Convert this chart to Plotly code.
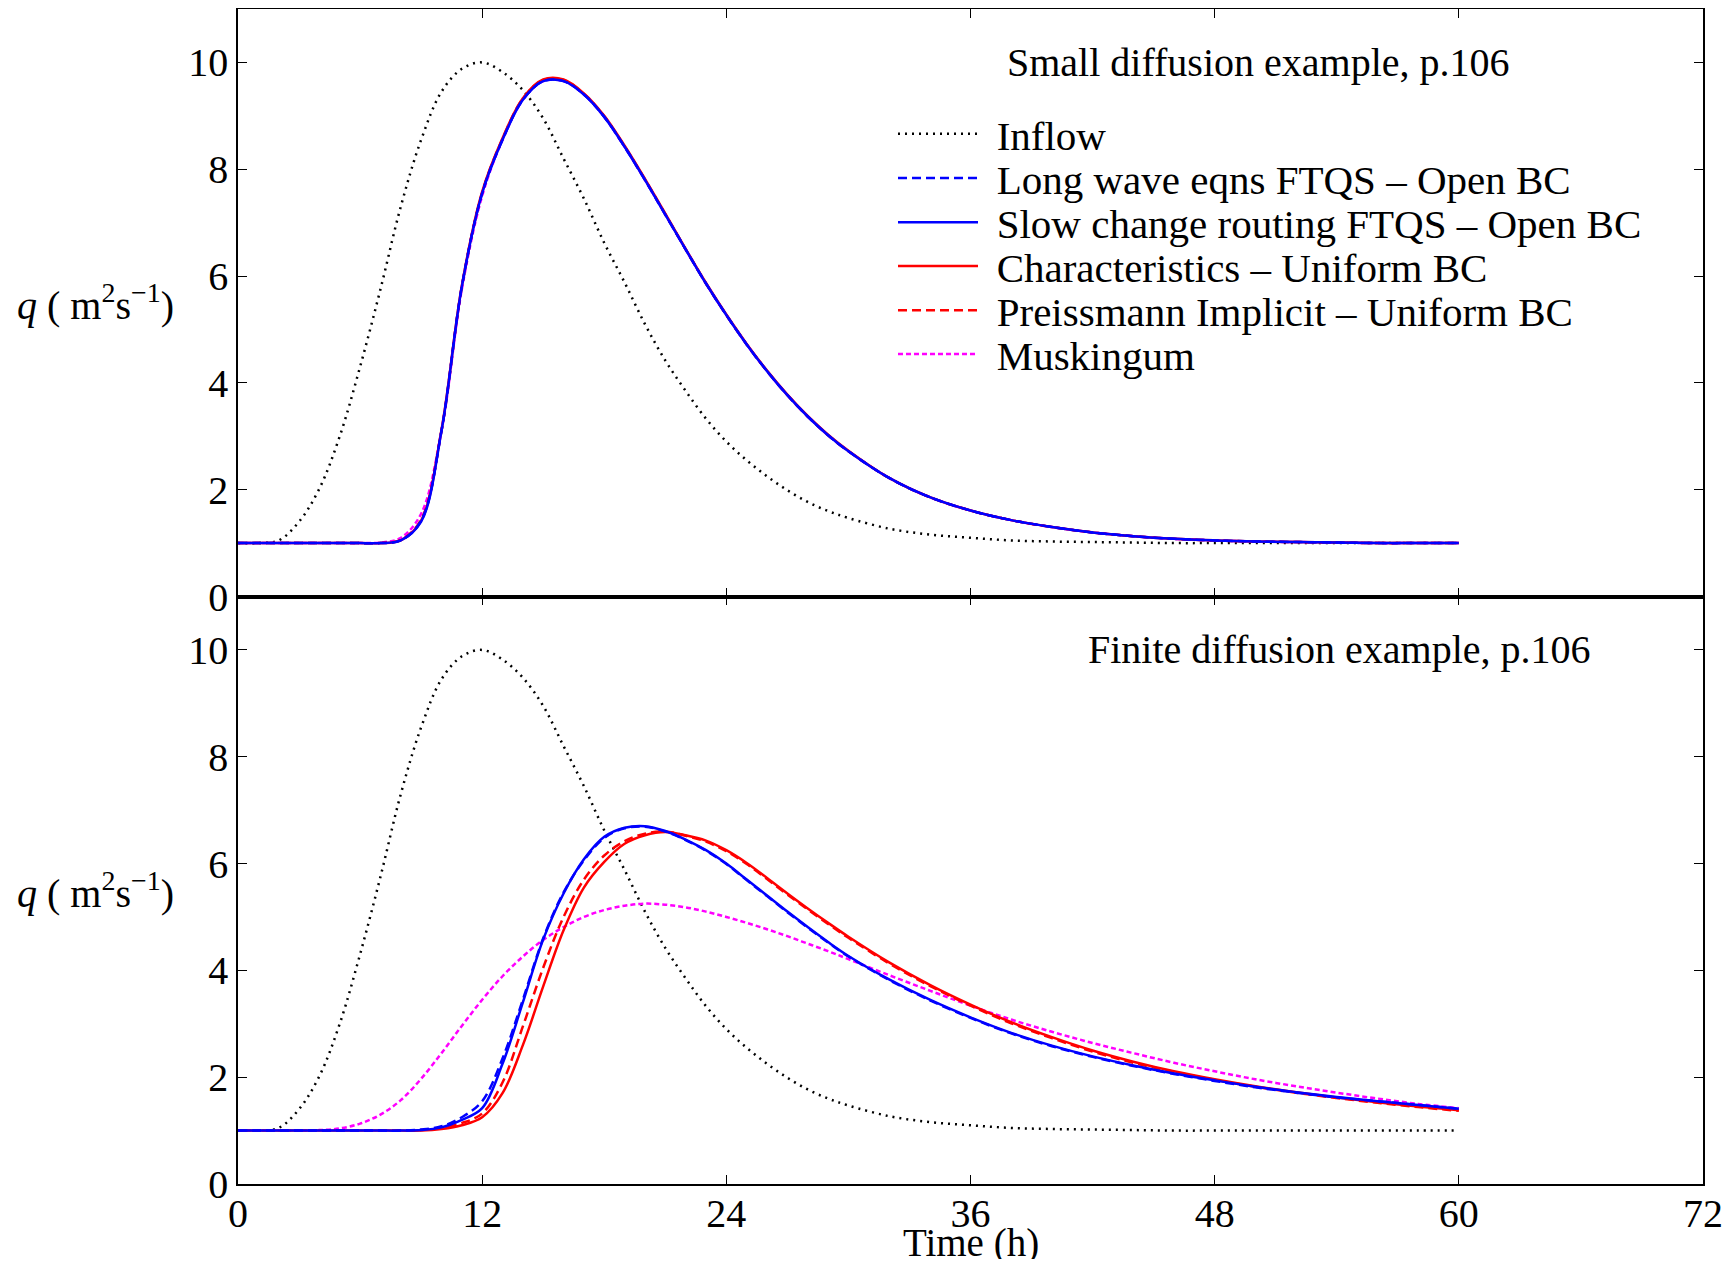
import plotly.graph_objects as go
from plotly.subplots import make_subplots

# time axis (hours): hourly to 30, then every 2 h
hours = list(range(0, 31)) + list(range(32, 61, 2))

# inflow hydrograph, same in both examples
inflow = [1.0, 1.0, 1.05, 1.4, 2.02, 3.0, 4.3, 5.75, 7.3, 8.55,
          9.45, 9.88, 10.0, 9.82, 9.48, 8.95, 8.2, 7.45, 6.62, 5.88,
          5.1, 4.42, 3.85, 3.33, 2.9, 2.55, 2.25, 1.99, 1.77, 1.6,
          1.47,
          1.27, 1.16, 1.1, 1.05, 1.03, 1.02, 1.01, 1.0, 1.0, 1.0, 1.0, 1.0, 1.0, 1.0, 1.0]

# --- small diffusion example (top) ---
small_longwave = [1.0, 1.0, 1.0, 1.0, 1.0, 1.0, 1.0, 1.0, 1.05, 1.42,
                  3.1, 5.8, 7.55, 8.55, 9.3, 9.65, 9.65, 9.4, 8.98, 8.42,
                  7.8, 7.15, 6.5, 5.86, 5.27, 4.72, 4.22, 3.77, 3.37, 3.02,
                  2.72,
                  2.22, 1.86, 1.61, 1.43, 1.3, 1.2, 1.13, 1.08, 1.05, 1.03, 1.02, 1.01, 1.0, 1.0, 1.0]
small_slow = [1.0, 1.0, 1.0, 1.0, 1.0, 1.0, 1.0, 1.0, 1.05, 1.4,
              3.1, 5.8, 7.55, 8.55, 9.3, 9.65, 9.65, 9.4, 8.98, 8.42,
              7.8, 7.15, 6.5, 5.86, 5.27, 4.72, 4.22, 3.77, 3.37, 3.02,
              2.72,
              2.22, 1.86, 1.61, 1.43, 1.3, 1.2, 1.13, 1.08, 1.05, 1.03, 1.02, 1.01, 1.0, 1.0, 1.0]
small_charac = [1.0, 1.0, 1.0, 1.0, 1.0, 1.0, 1.0, 1.0, 1.05, 1.42,
                3.12, 5.82, 7.58, 8.58, 9.33, 9.68, 9.68, 9.42, 9.0, 8.44,
                7.82, 7.17, 6.51, 5.87, 5.28, 4.73, 4.23, 3.78, 3.38, 3.03,
                2.73,
                2.22, 1.86, 1.61, 1.43, 1.3, 1.2, 1.13, 1.08, 1.05, 1.03, 1.02, 1.01, 1.0, 1.0, 1.0]
small_preiss = [1.0, 1.0, 1.0, 1.0, 1.0, 1.0, 1.0, 1.0, 1.06, 1.44,
                3.1, 5.8, 7.56, 8.57, 9.32, 9.67, 9.67, 9.41, 8.99, 8.43,
                7.81, 7.16, 6.5, 5.86, 5.27, 4.72, 4.22, 3.77, 3.37, 3.02,
                2.72,
                2.22, 1.86, 1.61, 1.43, 1.3, 1.2, 1.13, 1.08, 1.05, 1.03, 1.02, 1.01, 1.0, 1.0, 1.0]
small_musk = [1.0, 1.0, 1.0, 1.0, 1.0, 1.0, 1.0, 1.01, 1.1, 1.55,
              3.1, 5.75, 7.5, 8.55, 9.3, 9.65, 9.65, 9.4, 8.98, 8.42,
              7.8, 7.15, 6.5, 5.86, 5.27, 4.72, 4.22, 3.77, 3.37, 3.02,
              2.72,
              2.22, 1.86, 1.61, 1.43, 1.3, 1.2, 1.13, 1.08, 1.05, 1.03, 1.02, 1.01, 1.0, 1.0, 1.0]

# --- finite diffusion example (bottom) ---
finite_longwave = [1.0, 1.0, 1.0, 1.0, 1.0, 1.0, 1.0, 1.0, 1.0, 1.02,
                   1.08, 1.25, 1.55, 2.35, 3.45, 4.6, 5.46, 6.06, 6.48, 6.66,
                   6.69, 6.6, 6.44, 6.24, 5.99, 5.69, 5.39, 5.09, 4.8, 4.52,
                   4.26,
                   3.82, 3.44, 3.11, 2.82, 2.58, 2.38, 2.21, 2.06, 1.93, 1.81, 1.71, 1.62, 1.55, 1.48, 1.41]
finite_slow = [1.0, 1.0, 1.0, 1.0, 1.0, 1.0, 1.0, 1.0, 1.0, 1.01,
               1.06, 1.2, 1.42, 2.25, 3.4, 4.58, 5.44, 6.08, 6.5, 6.67,
               6.7, 6.61, 6.45, 6.25, 6.0, 5.7, 5.4, 5.1, 4.81, 4.53,
               4.27,
               3.83, 3.45, 3.12, 2.83, 2.59, 2.39, 2.22, 2.07, 1.94, 1.82, 1.72, 1.63, 1.55, 1.48, 1.41]
finite_charac = [1.0, 1.0, 1.0, 1.0, 1.0, 1.0, 1.0, 1.0, 1.0, 1.0,
                 1.03, 1.1, 1.25, 1.7, 2.6, 3.7, 4.75, 5.55, 6.03, 6.37,
                 6.53, 6.59, 6.53, 6.43, 6.25, 6.01, 5.73, 5.44, 5.16, 4.89,
                 4.63,
                 4.15, 3.73, 3.36, 3.03, 2.75, 2.5, 2.29, 2.11, 1.96, 1.83, 1.72, 1.62, 1.53, 1.45, 1.38]
finite_preiss = [1.0, 1.0, 1.0, 1.0, 1.0, 1.0, 1.0, 1.0, 1.0, 1.01,
                 1.05, 1.14, 1.32, 1.9, 2.95, 4.05, 5.0, 5.7, 6.15, 6.42,
                 6.56, 6.6, 6.52, 6.41, 6.23, 5.99, 5.71, 5.42, 5.14, 4.87,
                 4.61,
                 4.13, 3.71, 3.34, 3.01, 2.73, 2.48, 2.27, 2.1, 1.95, 1.82, 1.71, 1.61, 1.52, 1.44, 1.37]
finite_musk = [1.0, 1.0, 1.0, 1.0, 1.01, 1.04, 1.13, 1.3, 1.57, 1.97,
               2.45, 2.96, 3.45, 3.89, 4.26, 4.57, 4.81, 5.0, 5.13, 5.21,
               5.25, 5.23, 5.18, 5.1, 5.0, 4.89, 4.77, 4.64, 4.5, 4.36,
               4.21,
               3.91, 3.62, 3.34, 3.08, 2.85, 2.64, 2.45, 2.27, 2.11, 1.96, 1.83, 1.71, 1.6, 1.5, 1.42]

names = ["Inflow",
         "Long wave eqns FTQS – Open BC",
         "Slow change routing FTQS – Open BC",
         "Characteristics – Uniform BC",
         "Preissmann Implicit – Uniform BC",
         "Muskingum"]

FONT = "Liberation Serif"

fig = make_subplots(rows=2, cols=1, shared_xaxes=True, vertical_spacing=0)

panels = [
    (1, [inflow, small_longwave, small_slow, small_charac, small_preiss, small_musk]),
    (2, [inflow, finite_longwave, finite_slow, finite_charac, finite_preiss, finite_musk]),
]

styles = [
    dict(color="black", dash="2px,5px", width=2.5),
    dict(color="blue", dash="9px,5px", width=2.5),
    dict(color="blue", dash="solid", width=2.5),
    dict(color="red", dash="solid", width=2.5),
    dict(color="red", dash="9px,5px", width=2.5),
    dict(color="magenta", dash="5px,3px", width=2.5),
]

legend_ids = ["legend", "legend2", "legend3", "legend4", "legend5", "legend6"]

# draw order: inflow, muskingum, reds, then blues on top
draw_order = [0, 5, 4, 3, 1, 2]

for row, series in panels:
    for i in draw_order:
        fig.add_trace(go.Scatter(
            x=hours, y=series[i], mode="lines",
            name="\u00a0\u200a" + names[i],  # small gap between key and text
            line=dict(shape="spline", smoothing=1.0, **styles[i]),
            showlegend=(row == 1), legend=legend_ids[i],
        ), row=row, col=1)

axis_common = dict(showline=True, linecolor="black", linewidth=1.5, mirror="ticks",
                   ticks="inside", ticklen=9, tickwidth=1, tickcolor="black",
                   showgrid=False, zeroline=False, automargin=False,
                   tickfont=dict(family=FONT, size=40, color="black"))

for r in (1, 2):
    fig.update_xaxes(range=[0, 72], tickvals=[0, 12, 24, 36, 48, 60, 72],
                     showticklabels=(r == 2), ticklabelstandoff=-7,
                     row=r, col=1, **axis_common)
    fig.update_yaxes(range=[0, 11], tickvals=[0, 2, 4, 6, 8, 10],
                     row=r, col=1, **axis_common)

ylabel = "<i>q</i> ( m<sup>2</sup>s<sup>−1</sup>)"
annotations = [
    dict(text=ylabel, xref="paper", yref="y domain", x=-0.042, y=0.5,
         xanchor="right", yanchor="middle", showarrow=False, size=40),
    dict(text=ylabel, xref="paper", yref="y2 domain", x=-0.042, y=0.5,
         xanchor="right", yanchor="middle", showarrow=False, size=40),
    dict(text="Small diffusion example, p.106", xref="x", yref="y", x=37.7, y=10.0,
         xanchor="left", yanchor="middle", showarrow=False, size=40),
    dict(text="Finite diffusion example, p.106", xref="x2", yref="y2", x=41.7, y=10.0,
         xanchor="left", yanchor="middle", showarrow=False, size=40),
    dict(text="Time (h)", xref="x2", yref="paper", x=36, y=-0.0505,
         xanchor="center", yanchor="middle", showarrow=False, size=39),
]
for a in annotations:
    a["font"] = dict(family=FONT, size=a.pop("size"), color="black")
    fig.add_annotation(**a)

# one legend per row so the row spacing matches the reference
legend_rows = [0.8935, 0.8559, 0.8183, 0.7809, 0.7434, 0.7060]
legend_layout = {}
for lid, ly in zip(legend_ids, legend_rows):
    legend_layout[lid] = dict(x=0.4471, y=ly, xanchor="left", yanchor="middle",
                              bgcolor="rgba(0,0,0,0)", itemwidth=80,
                              font=dict(family=FONT, size=41, color="black"))

# page body adds an 8px margin, so the figure is 16px smaller than the window
fig.update_layout(
    width=1715, height=1251,
    margin=dict(l=230, r=20, t=1, b=75),
    paper_bgcolor="white", plot_bgcolor="white",
    font=dict(family=FONT, size=38, color="black"),
    **legend_layout,
)

fig.write_html("out.html")
